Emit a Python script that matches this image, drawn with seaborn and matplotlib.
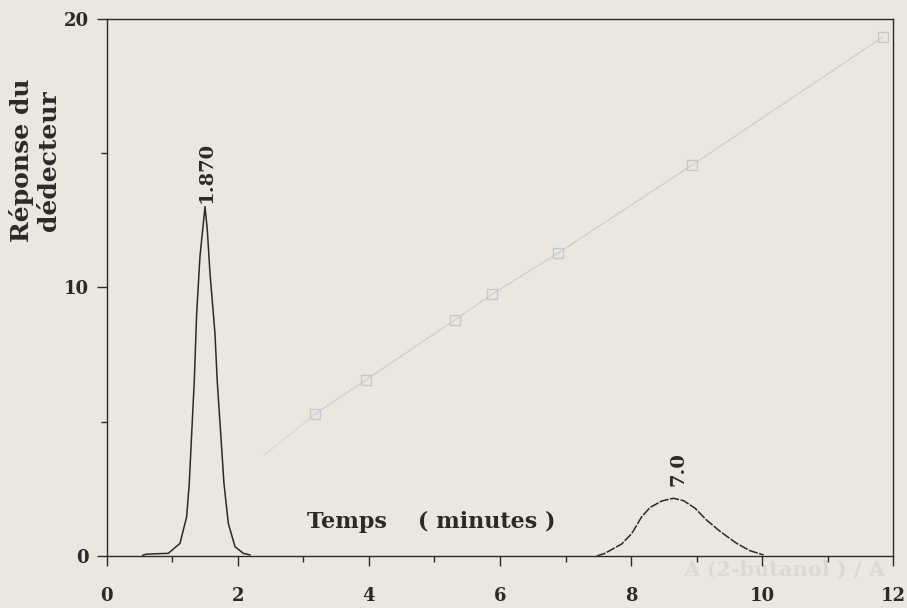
import matplotlib.pyplot as plt
import pandas as pd
import seaborn as sns

# ------------------------------------------------------------
# data
# ------------------------------------------------------------
peak1_t = [0.55, 0.61, 0.94, 1.118, 1.22, 1.26, 1.297, 1.336, 1.373, 1.423, 1.50,
           1.535, 1.576, 1.652, 1.687, 1.739, 1.789, 1.855, 1.957, 2.084, 2.19]
peak1_y = [0.03, 0.07, 0.10, 0.47, 1.46, 2.71, 4.57, 6.49, 9.04, 11.15, 13.01,
           12.14, 10.53, 8.29, 6.49, 4.57, 2.71, 1.22, 0.35, 0.10, 0.04]

peak2_t = [7.475, 7.60, 7.857, 8.01, 8.16, 8.29, 8.467, 8.645, 8.80, 8.975,
           9.15, 9.36, 9.61, 9.81, 10.02]
peak2_y = [0.0, 0.10, 0.45, 0.84, 1.46, 1.81, 2.05, 2.15, 2.06, 1.78,
           1.34, 0.91, 0.47, 0.20, 0.04]

# faint curve showing through from the other side of the page
ghost_x = [3.18, 3.955, 5.31, 5.88, 6.885, 8.93, 11.84]
ghost_y = [5.29, 6.56, 8.79, 9.75, 11.28, 14.56, 19.33]

peak_labels = ["1.870", "7.0"]
peak_label_pos = [(1.53, 13.15), (8.72, 2.62)]

x_ticks = [0, 2, 4, 6, 8, 10, 12]
y_ticks = [0, 10, 20]

paper = "#ece7de"
ink = "#2b2a28"

sns.set_theme(style="ticks")
plt.rcParams["font.family"] = ["DejaVu Serif"]
plt.rcParams["font.weight"] = "bold"

fig = plt.figure(figsize=(9.07, 6.08), dpi=100, facecolor=paper)
ax = fig.add_axes([0.1176, 0.0855, 0.8674, 0.8833])
ax.set_facecolor(paper)

trace = pd.concat([
    pd.DataFrame({"t": peak1_t, "y": peak1_y, "peak": "p1"}),
    pd.DataFrame({"t": peak2_t, "y": peak2_y, "peak": "p2"}),
])
ghost = pd.DataFrame({"x": ghost_x, "y": ghost_y})

# bleed-through line
ax.plot([2.4] + ghost_x[:1], [3.75] + ghost_y[:1], color="#d6d9da", lw=1.0, zorder=1)
sns.lineplot(data=ghost, x="x", y="y", ax=ax, color="#cbd0d3", lw=1.0,
             marker="s", markersize=7, markerfacecolor="none",
             markeredgecolor="#c3c9cc", markeredgewidth=1.0, zorder=1)

sns.lineplot(data=trace[trace.peak == "p1"], x="t", y="y", ax=ax,
             color=ink, lw=1.1, sort=False, zorder=3)
sns.lineplot(data=trace[trace.peak == "p2"], x="t", y="y", ax=ax,
             color=ink, lw=1.1, sort=False, linestyle=(0, (6, 1)), zorder=3)

for txt, (px, py) in zip(peak_labels, peak_label_pos):
    ax.text(px, py, txt, rotation=90, ha="center", va="bottom",
            fontsize=14, fontweight="bold", color=ink)

ax.text(3.06, 1.25, "Temps    ( minutes )", ha="left", va="center",
        fontsize=16, fontweight="bold", color=ink)
ax.text(-0.091, 0.737, "Réponse du\ndédecteur", transform=ax.transAxes,
        rotation=90, ha="center", va="center", fontsize=18,
        fontweight="bold", color=ink, linespacing=1.2)

ax.text(8.8, -0.75, "A (2-butanol ) / A", fontsize=15, fontweight="bold",
        color="#dcd8d2", zorder=0, clip_on=False)

ax.set_xlim(0, 12)
ax.set_ylim(0, 20)
ax.set_xticks(x_ticks)
ax.set_yticks(y_ticks)
ax.set_xticks([1, 3, 5, 7, 9, 11], minor=True)
ax.set_yticks([5, 15], minor=True)
ax.set_xlabel("")
ax.set_ylabel("")
ax.tick_params(axis="both", which="major", length=7, width=1.0, color=ink,
               labelsize=13, labelcolor=ink)
ax.tick_params(axis="x", which="major", pad=15)
ax.tick_params(axis="y", which="major", pad=6)
ax.tick_params(axis="both", which="minor", length=4, width=1.0, color=ink)
for lab in ax.get_xticklabels() + ax.get_yticklabels():
    lab.set_fontweight("bold")
for sp in ax.spines.values():
    sp.set_visible(True)
    sp.set_color(ink)
    sp.set_linewidth(1.0)

fig.savefig("out.png", dpi=100, facecolor=paper)
